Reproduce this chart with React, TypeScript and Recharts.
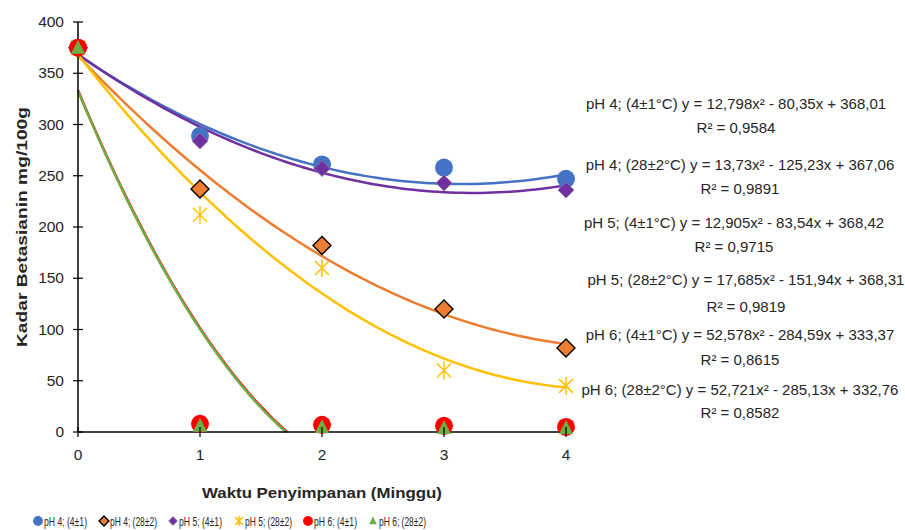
import React from 'react';
import { ComposedChart, Line, Scatter, XAxis, YAxis } from 'recharts';

// storage time (weeks) and measured betacyanin content (mg/100g)
const weeks = [0, 1, 2, 3, 4];
const ph4Cold = [375, 289, 261, 258, 247];
const ph4Warm = [375, 237, 182, 120, 82];
const ph5Cold = [375, 284, 257, 243, 236];
const ph5Warm = [375, 212, 160, 60, 45];
const ph6Cold = [375, 8, 7, 6, 5];
const ph6Warm = [375, 6, 5, 4, 4];

const seriesNames = ['pH 4; (4±1)', 'pH 4; (28±2)', 'pH 5; (4±1)', 'pH 5; (28±2)', 'pH 6; (4±1)', 'pH 6; (28±2)'];

// polynomial trendline coefficients as printed on the chart (a, b, c)
const fitPh4Cold = [12.798, -80.35, 368.01];
const fitPh4Warm = [13.73, -125.23, 367.06];
const fitPh5Cold = [12.905, -83.54, 368.42];
const fitPh5Warm = [17.685, -151.94, 368.31];
const fitPh6Cold = [52.578, -284.59, 333.37];
const fitPh6Warm = [52.721, -285.13, 332.76];

const fitLabels = [
  'pH 4; (4±1°C) y = 12,798x² - 80,35x + 368,01',
  'pH 4; (28±2°C) y = 13,73x² - 125,23x + 367,06',
  'pH 5; (4±1°C) y = 12,905x² - 83,54x + 368,42',
  'pH 5; (28±2°C) y = 17,685x² - 151,94x + 368,31',
  'pH 6; (4±1°C) y = 52,578x² - 284,59x + 333,37',
  'pH 6; (28±2°C) y = 52,721x² - 285,13x + 332,76',
];
const r2Labels = ['R² = 0,9584', 'R² = 0,9891', 'R² = 0,9715', 'R² = 0,9819', 'R² = 0,8615', 'R² = 0,8582'];

const yTicks = [0, 50, 100, 150, 200, 250, 300, 350, 400];
const xTicks = [0, 1, 2, 3, 4];

const COLORS = ['#4472C4', '#ED7D31', '#7030A0', '#FFC000', '#FF0000', '#70AD47'];
const FONT = "'Liberation Sans', Arial, sans-serif";

const toPoints = (vals: number[]) => weeks.map((w, i) => ({ x: w, y: vals[i] }));

// trendline evaluated over the weeks range, stopped where it reaches the x axis
function trendPoints(c: number[]) {
  const [a, b, k] = c;
  const pts: { x: number; y: number }[] = [];
  for (let i = 0; i <= 80; i++) {
    const x = i * 0.05;
    const y = a * x * x + b * x + k;
    if (y < 0) {
      const root = (-b - Math.sqrt(b * b - 4 * a * k)) / (2 * a);
      pts.push({ x: root, y: 0 });
      break;
    }
    pts.push({ x, y });
  }
  return pts;
}

const series = [
  { vals: ph4Cold, fit: fitPh4Cold },
  { vals: ph4Warm, fit: fitPh4Warm },
  { vals: ph5Cold, fit: fitPh5Cold },
  { vals: ph5Warm, fit: fitPh5Warm },
  { vals: ph6Cold, fit: fitPh6Cold },
  { vals: ph6Warm, fit: fitPh6Warm },
];

function Marker({ kind, cx, cy, s = 1 }: { kind: number; cx: number; cy: number; s?: number }) {
  const c = COLORS[kind];
  if (kind === 0 || kind === 4) return <circle cx={cx} cy={cy} r={9 * s} fill={c} />;
  if (kind === 1) {
    const h = 9 * s;
    return (
      <polygon
        points={`${cx},${cy - h} ${cx + h},${cy} ${cx},${cy + h} ${cx - h},${cy}`}
        fill={c}
        stroke="#000"
        strokeWidth={1.4}
      />
    );
  }
  if (kind === 2) {
    const h = 8 * s;
    return (
      <polygon
        points={`${cx},${cy - h} ${cx + h},${cy} ${cx},${cy + h} ${cx - h},${cy}`}
        fill={c}
        stroke="#8e7aa8"
        strokeWidth={0.8}
      />
    );
  }
  if (kind === 3) {
    const d = 7 * s;
    return (
      <g stroke={c} strokeWidth={1.5}>
        <line x1={cx - d} y1={cy - d} x2={cx + d} y2={cy + d} />
        <line x1={cx + d} y1={cy - d} x2={cx - d} y2={cy + d} />
        <line x1={cx} y1={cy - 9 * s} x2={cx} y2={cy + 9 * s} />
      </g>
    );
  }
  const w = 7 * s;
  return <polygon points={`${cx},${cy - 8 * s} ${cx + w},${cy + 6 * s} ${cx - w},${cy + 6 * s}`} fill={c} />;
}

const YTick = (props: any) => {
  const { x, y, payload } = props;
  return (
    <g>
      <line x1={x - 5} x2={x + 5} y1={y} y2={y} stroke="#000" strokeWidth={1.2} />
      <text x={x - 14} y={y + 5} textAnchor="end" fontSize={15.5} fill="#262626" fontFamily={FONT}>
        {payload.value}
      </text>
    </g>
  );
};

const XTick = (props: any) => {
  const { x, y, payload } = props;
  return (
    <g>
      <line x1={x} x2={x} y1={y - 5} y2={y + 5} stroke="#000" strokeWidth={1.2} />
      <text x={x} y={y + 28} textAnchor="middle" fontSize={15.5} fill="#262626" fontFamily={FONT}>
        {payload.value}
      </text>
    </g>
  );
};

const fitPos = [
  { x: 736, y: 109, ry: 133 },
  { x: 740, y: 170, ry: 194 },
  { x: 734, y: 228, ry: 252 },
  { x: 746, y: 285, ry: 312 },
  { x: 740, y: 340, ry: 365 },
  { x: 740, y: 395, ry: 418 },
];
const legendPos = [38, 104, 173, 239, 308, 373];

export default function App() {
  return (
    <div style={{ position: 'absolute', left: 0, top: 0, width: 905, height: 530, background: '#fff' }}>
      <ComposedChart width={905} height={530} margin={{ top: 22, right: 339, bottom: 68, left: 18 }}>
        <XAxis
          type="number"
          dataKey="x"
          domain={[0, 4]}
          ticks={xTicks}
          height={30}
          tickSize={0}
          tickMargin={0}
          tickLine={false}
          tick={<XTick />}
          axisLine={{ stroke: '#000', strokeWidth: 1.5 }}
          allowDuplicatedCategory={false}
        />
        <YAxis
          type="number"
          dataKey="y"
          domain={[0, 400]}
          ticks={yTicks}
          width={60}
          tickSize={0}
          tickMargin={0}
          tickLine={false}
          tick={<YTick />}
          axisLine={{ stroke: '#000', strokeWidth: 1.5 }}
        />
        {series.map((s, i) => (
          <Line
            key={`fit-${i}`}
            data={trendPoints(s.fit)}
            dataKey="y"
            type="linear"
            stroke={COLORS[i]}
            strokeWidth={2.5}
            dot={false}
            activeDot={false}
            isAnimationActive={false}
          />
        ))}
        {series.map((s, i) => (
          <Scatter
            key={`pts-${i}`}
            name={seriesNames[i]}
            data={toPoints(s.vals)}
            dataKey="y"
            isAnimationActive={false}
            shape={(p: any) => <Marker kind={i} cx={p.cx} cy={p.cy} />}
          />
        ))}
      </ComposedChart>
      <svg width={905} height={530} style={{ position: 'absolute', left: 0, top: 0, pointerEvents: 'none' }}>
        <text
          transform="translate(27,227) rotate(-90)"
          textAnchor="middle"
          fontSize={15}
          fontWeight="bold"
          fill="#262626"
          fontFamily={FONT}
          textLength={240}
          lengthAdjust="spacingAndGlyphs"
        >
          Kadar Betasianin mg/100g
        </text>
        <text
          x={322}
          y={498}
          textAnchor="middle"
          fontSize={15}
          fontWeight="bold"
          fill="#262626"
          fontFamily={FONT}
          textLength={240}
          lengthAdjust="spacingAndGlyphs"
        >
          Waktu Penyimpanan (Minggu)
        </text>
        {fitLabels.map((t, i) => (
          <g key={t}>
            <text x={fitPos[i].x} y={fitPos[i].y} textAnchor="middle" fontSize={15} fill="#262626" fontFamily={FONT}>
              {t}
            </text>
            <text x={fitPos[i].x} y={fitPos[i].ry} textAnchor="middle" fontSize={15} fill="#262626" fontFamily={FONT}>
              {r2Labels[i]}
            </text>
          </g>
        ))}
        {seriesNames.map((n, i) => (
          <g key={n}>
            <Marker kind={i} cx={legendPos[i]} cy={521} s={0.55} />
            <text
              x={legendPos[i] + 6}
              y={526}
              fontSize={12}
              fill="#262626"
              fontFamily={FONT}
              textLength={i % 2 === 1 ? 47 : 43}
              lengthAdjust="spacingAndGlyphs"
            >
              {n}
            </text>
          </g>
        ))}
      </svg>
    </div>
  );
}
